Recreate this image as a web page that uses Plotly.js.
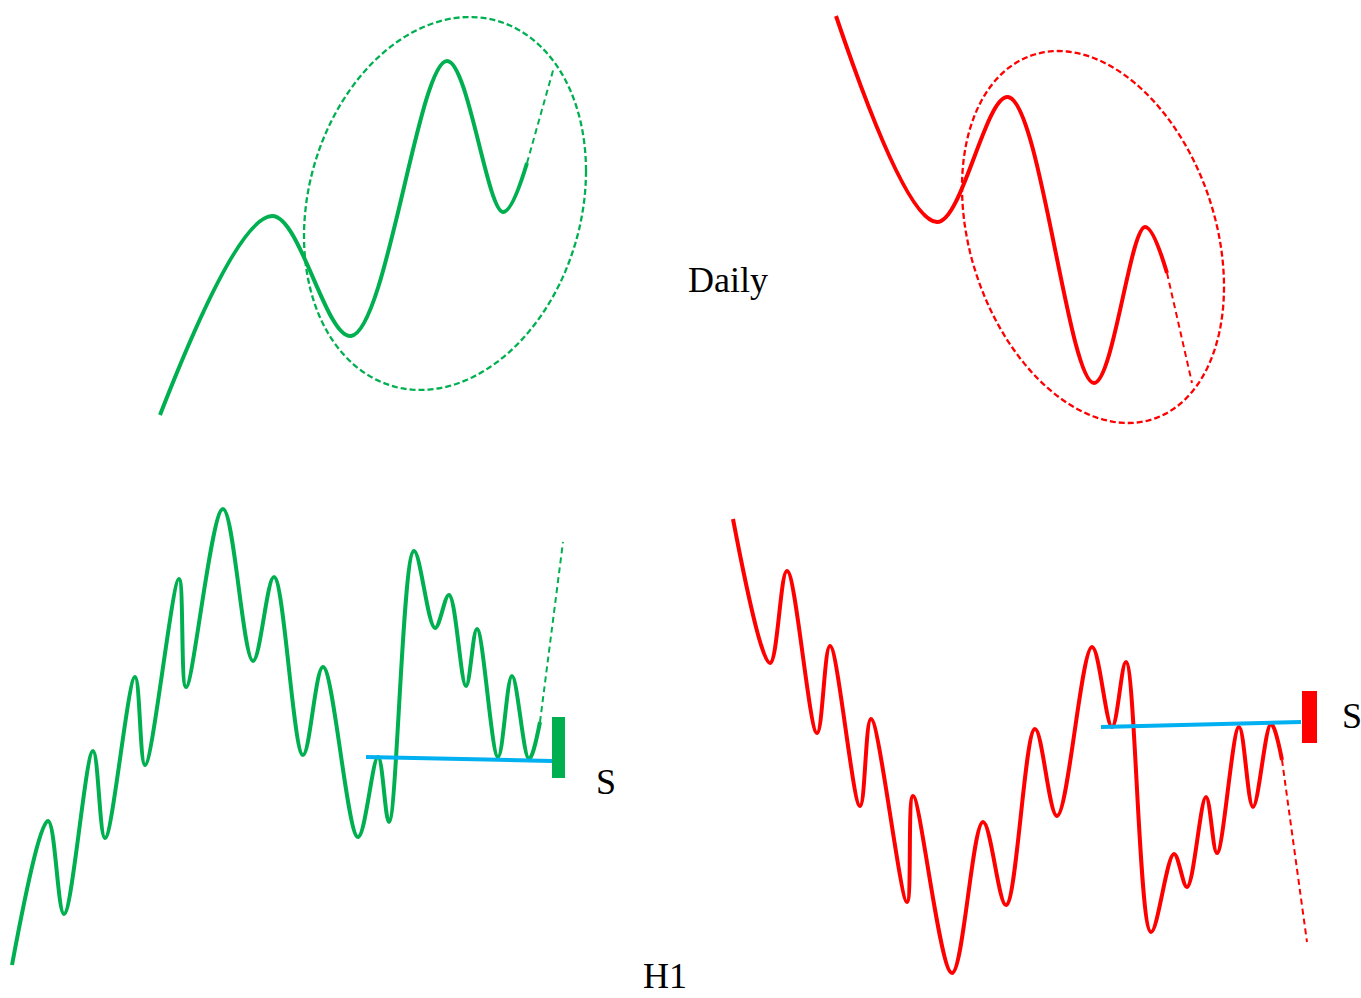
<!DOCTYPE html>
<html>
<head>
<meta charset="utf-8">
<script src="https://cdn.plot.ly/plotly-3.0.1.min.js"></script>
<style>html,body{margin:0;padding:0;background:#fff;}#chart{width:1361px;height:998px;}</style>
</head>
<body>
<div id="chart"></div>
<script>
// ---- Daily (top) schematic swings, in picture units ----
const dailyBullX = [160, 272, 351, 447, 503, 527];
const dailyBullY = [415, 216, 336, 61, 212, 163];
const dailyBullProjX = [527, 554];
const dailyBullProjY = [163, 67];

const dailyBearX = [836, 937, 1008, 1094, 1145, 1167];
const dailyBearY = [16, 222, 97, 383, 227, 273];
const dailyBearProjX = [1167, 1192];
const dailyBearProjY = [273, 383];

// ellipse: centre x, centre y, x half-extent, y half-extent, skew (sin of phase)
const greenEllipse = [445, 203.5, 141, 186.5, -0.175];
const redEllipse = [1093, 237, 131, 186, 0.267];

// ---- H1 (bottom) swings ----
const h1BullX = [12, 48, 64, 93, 105, 135, 145, 179, 186, 223, 253, 274, 303, 323, 358, 378, 389, 414, 435, 449, 466, 477, 498, 512, 529, 540];
const h1BullY = [965, 821, 914, 751, 838, 677, 765, 579, 687, 509, 661, 577, 755, 667, 837, 757, 822, 551, 628, 595, 686, 629, 757, 676, 759, 722];
const h1BullProjX = [540, 563];
const h1BullProjY = [722, 542];
const supportGreenX = [366, 552];
const supportGreenY = [757, 761];
const signalGreenX = [552, 565];
const signalGreenY = [717, 778];

const h1BearX = [733, 770, 787, 817, 830, 860, 871, 907, 913, 952, 983, 1006, 1035, 1057, 1092, 1112, 1126, 1151, 1174, 1187, 1206, 1217, 1239, 1253, 1271, 1282];
const h1BearY = [519, 663, 571, 733, 646, 806, 719, 902, 796, 973, 822, 905, 729, 816, 647, 727, 662, 932, 854, 887, 797, 853, 727, 807, 724, 760];
const h1BearProjX = [1282, 1307];
const h1BearProjY = [760, 942];
const supportRedX = [1101, 1301];
const supportRedY = [727, 722];
const signalRedX = [1302, 1317];
const signalRedY = [691, 743];

// labels
const labelText = ["Daily", "H1", "S", "S"];
const labelX = [728, 665, 606, 1352];
const labelY = [280, 998, 782, 716];
const labelAnchor = ["middle", "bottom", "middle", "middle"];

const GREEN = "#00B050", RED = "#FF0000", BLUE = "#00B0F0";

function ellipsePath(e) {
  const [cx, cy, A, B, s] = e;
  const a = Math.asin(s);
  const n = 160;
  let p = "";
  for (let i = 0; i <= n; i++) {
    const t = 2 * Math.PI * i / n;
    const x = cx + A * Math.cos(t);
    const y = cy + B * Math.sin(t + a);
    p += (i === 0 ? "M" : "L") + x.toFixed(2) + "," + y.toFixed(2);
  }
  return p + "Z";
}

function curve(x, y, color, w) {
  return {x: x, y: y, type: "scatter", mode: "lines", hoverinfo: "skip",
    line: {color: color, width: w, shape: "spline", smoothing: 1}};
}
function dashed(x, y, color) {
  return {x: x, y: y, type: "scatter", mode: "lines", hoverinfo: "skip",
    line: {color: color, width: 2, dash: "6px,4px"}};
}
function straight(x, y, color, w) {
  return {x: x, y: y, type: "scatter", mode: "lines", hoverinfo: "skip",
    line: {color: color, width: w}};
}

const traces = [
  curve(dailyBullX, dailyBullY, GREEN, 4),
  dashed(dailyBullProjX, dailyBullProjY, GREEN),
  curve(dailyBearX, dailyBearY, RED, 4),
  dashed(dailyBearProjX, dailyBearProjY, RED),
  curve(h1BullX, h1BullY, GREEN, 4),
  dashed(h1BullProjX, h1BullProjY, GREEN),
  straight(supportGreenX, supportGreenY, BLUE, 4),
  curve(h1BearX, h1BearY, RED, 4),
  dashed(h1BearProjX, h1BearProjY, RED),
  straight(supportRedX, supportRedY, BLUE, 4)
];

const shapes = [
  {type: "path", xref: "x", yref: "y", path: ellipsePath(greenEllipse),
   line: {color: GREEN, width: 2.3, dash: "6px,3px"}, fillcolor: "rgba(0,0,0,0)", layer: "below"},
  {type: "path", xref: "x", yref: "y", path: ellipsePath(redEllipse),
   line: {color: RED, width: 2.3, dash: "6px,3px"}, fillcolor: "rgba(0,0,0,0)", layer: "below"},
  {type: "rect", xref: "x", yref: "y", x0: signalGreenX[0], x1: signalGreenX[1],
   y0: signalGreenY[0], y1: signalGreenY[1], fillcolor: GREEN, line: {width: 0}},
  {type: "rect", xref: "x", yref: "y", x0: signalRedX[0], x1: signalRedX[1],
   y0: signalRedY[0], y1: signalRedY[1], fillcolor: RED, line: {width: 0}}
];

const annotations = labelText.map((t, i) => ({
  text: t, x: labelX[i], y: labelY[i], xref: "x", yref: "y",
  showarrow: false, xanchor: "center", yanchor: labelAnchor[i],
  font: {family: "Liberation Serif, Times New Roman, serif", size: 36, color: "#000"}
}));

const layout = {
  width: 1361, height: 998,
  margin: {l: 0, r: 0, t: 0, b: 0, pad: 0},
  paper_bgcolor: "#fff", plot_bgcolor: "#fff",
  showlegend: false,
  xaxis: {range: [0, 1361], visible: false, showgrid: false, zeroline: false, fixedrange: true},
  yaxis: {range: [998, 0], visible: false, showgrid: false, zeroline: false, fixedrange: true},
  shapes: shapes,
  annotations: annotations
};

Plotly.newPlot("chart", traces, layout, {displayModeBar: false, staticPlot: true});
</script>
</body>
</html>
